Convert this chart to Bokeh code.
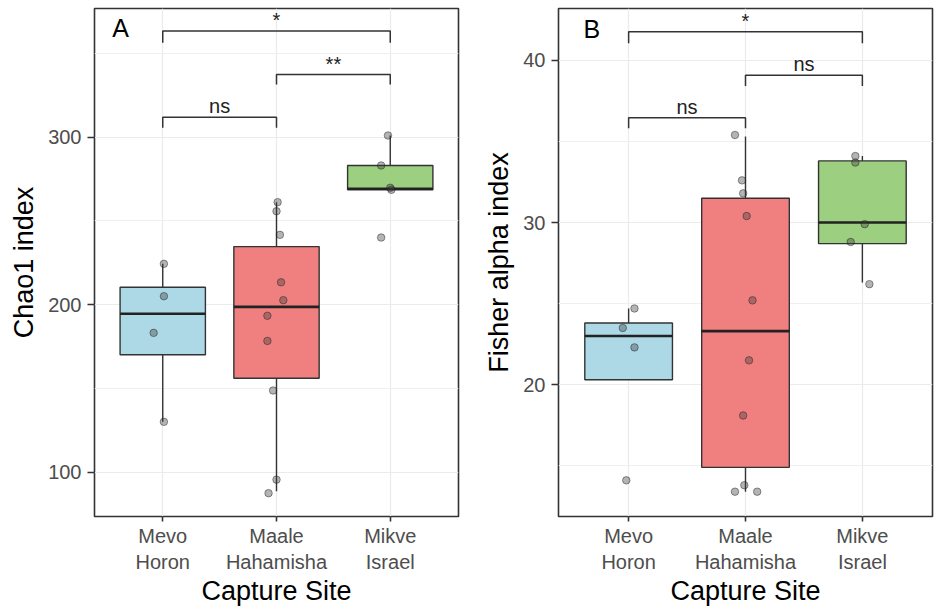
from bokeh.plotting import figure
from bokeh.layouts import row
from bokeh.models import Range1d, FixedTicker, Label, ColumnDataSource
from bokeh.core.properties import value
from bokeh.embed import file_html
from bokeh.resources import INLINE

# ---------------- data ----------------
categories = ["Mevo\nHoron", "Maale\nHahamisha", "Mikve\nIsrael"]
box_colors = ["#ADD8E6", "#F08080", "#9CCF80"]

# Panel A : Chao1 index
chao_q1 = [170.1, 156.1, 268.6]
chao_median = [194.6, 198.7, 269.2]
chao_q3 = [210.4, 234.7, 283.1]
chao_whisker_lo = [130.1, 88.7, 268.6]
chao_whisker_hi = [224.4, 261.2, 301.0]
chao_points = [
    [224.4, 205.1, 183.2, 130.1],
    [261.2, 255.8, 241.7, 213.4, 202.7, 193.4, 178.4, 148.8, 95.6, 87.5],
    [301.0, 283.1, 269.8, 268.6, 240.1],
]
chao_jitter = [
    [0.01, 0.01, -0.08, 0.01],
    [0.01, 0.0, 0.03, 0.04, 0.06, -0.08, -0.08, -0.03, 0.0, -0.07],
    [-0.02, -0.08, 0.0, 0.01, -0.08],
]
chao_brackets = [(1, 2, 311.9, 305.6, "ns"), (2, 3, 337.4, 331.5, "**"), (1, 3, 363.3, 356.4, "*")]

# Panel B : Fisher alpha index
fisher_q1 = [20.3, 14.9, 28.7]
fisher_median = [23.0, 23.3, 30.0]
fisher_q3 = [23.8, 31.5, 33.8]
fisher_whisker_lo = [20.3, 13.4, 26.3]
fisher_whisker_hi = [24.7, 35.3, 34.1]
fisher_points = [
    [24.7, 23.5, 22.3, 14.1],
    [35.4, 32.6, 31.8, 30.4, 25.2, 21.5, 18.1, 13.8, 13.4, 13.4],
    [34.1, 33.7, 29.9, 28.8, 26.2],
]
fisher_jitter = [
    [0.05, -0.05, 0.05, -0.02],
    [-0.09, -0.03, -0.02, 0.01, 0.06, 0.03, -0.02, -0.01, -0.09, 0.10],
    [-0.06, -0.06, 0.02, -0.10, 0.06],
]
fisher_brackets = [(1, 2, 36.46, 35.81, "ns"), (2, 3, 39.09, 38.42, "ns"), (1, 3, 41.76, 41.05, "*")]

FONT = "Liberation Sans"
DARK = "#333333"


def panel(ytitle, yrange, yticks, yminor, q1, med, q3, lo, hi, pts, jit,
          brackets, letter, letter_xy, border_left, border_right):
    p = figure(width=467, height=608, x_range=Range1d(0.4, 3.6), y_range=Range1d(*yrange),
               output_backend="svg", toolbar_location=None,
               min_border_left=border_left, min_border_right=border_right,
               min_border_top=8, min_border_bottom=92)
    p.background_fill_color = "white"
    p.border_fill_color = "white"
    p.outline_line_color = DARK
    p.outline_line_width = 1.6

    pos = [i + 1 for i in range(len(categories))]
    hw = 0.375

    # grid
    p.xaxis.ticker = FixedTicker(ticks=pos)
    p.yaxis.ticker = FixedTicker(ticks=yticks, minor_ticks=yminor)
    p.xgrid.grid_line_color = "#EBEBEB"
    p.ygrid.grid_line_color = "#EBEBEB"
    p.ygrid.minor_grid_line_color = "#EFEFEF"
    p.xgrid.grid_line_width = 1.2
    p.ygrid.grid_line_width = 1.2
    p.ygrid.minor_grid_line_width = 1.0

    # axes
    p.xaxis.major_label_overrides = {i + 1: c for i, c in enumerate(categories)}
    for ax in (p.xaxis, p.yaxis):
        ax.axis_line_color = None
        ax.major_tick_line_color = DARK
        ax.major_tick_line_width = 1.6
        ax.major_tick_in = 0
        ax.minor_tick_line_color = None
        ax.major_label_text_font = FONT
        ax.major_label_text_font_size = "20px"
        ax.major_label_text_color = "#4D4D4D"
        ax.axis_label_text_font = FONT
        ax.axis_label_text_font_size = "27px"
        ax.axis_label_text_font_style = "normal"
        ax.axis_label_text_color = "black"
    p.xaxis.major_tick_out = 5
    p.yaxis.major_tick_out = 7
    p.xaxis.major_label_standoff = 3
    p.yaxis.major_label_standoff = 6
    p.xaxis.axis_label_standoff = 0
    p.yaxis.axis_label_standoff = 6
    p.xaxis.axis_label = "Capture Site"
    p.yaxis.axis_label = ytitle

    # whiskers
    p.segment(x0=pos, y0=q3, x1=pos, y1=hi, line_color=DARK, line_width=1.4)
    p.segment(x0=pos, y0=lo, x1=pos, y1=q1, line_color=DARK, line_width=1.4)
    # boxes
    p.vbar(x=pos, width=2 * hw, bottom=q1, top=q3, fill_color=box_colors,
           line_color=DARK, line_width=1.4)
    # medians
    p.segment(x0=[x - hw for x in pos], y0=med, x1=[x + hw for x in pos], y1=med,
              line_color="#222222", line_width=2.6)

    # jittered points
    xs, ys = [], []
    for i, (vals, js) in enumerate(zip(pts, jit)):
        for v, j in zip(vals, js):
            xs.append(pos[i] + j)
            ys.append(v)
    p.scatter(x=xs, y=ys, size=7.5, fill_color="#3A3A3A", fill_alpha=0.38,
              line_color="#1A1A1A", line_alpha=0.45, line_width=1)

    # significance brackets
    bxs, bys = [], []
    for a, b, y, tip, lab in brackets:
        bxs.append([a, a, b, b])
        bys.append([tip, y, y, tip])
    p.multi_line(xs=bxs, ys=bys, line_color=DARK, line_width=1.5)
    src = ColumnDataSource(dict(x=[(a + b) / 2 for a, b, _, _, _ in brackets],
                                y=[y for _, _, y, _, _ in brackets],
                                t=[lab for *_, lab in brackets]))
    p.text(x="x", y="y", text="t", source=src, text_align="center",
           text_baseline="bottom", text_font=value(FONT),
           text_font_size="20px", text_color="#222222")

    # panel letter
    p.add_layout(Label(x=letter_xy[0], y=letter_xy[1], text=letter, text_font=FONT,
                       text_font_size="25px", text_color="black",
                       text_baseline="top", text_align="left"))
    return p


pA = panel("Chao1 index", (73.6, 376.8), [100, 200, 300], [150, 250, 350],
           chao_q1, chao_median, chao_q3, chao_whisker_lo, chao_whisker_hi,
           chao_points, chao_jitter, chao_brackets, "A", (0.555, 373.5), 94, 9)
pB = panel("Fisher alpha index", (11.87, 43.2), [20, 30, 40], [15, 25, 35],
           fisher_q1, fisher_median, fisher_q3, fisher_whisker_lo, fisher_whisker_hi,
           fisher_points, fisher_jitter, fisher_brackets, "B", (0.613, 42.82), 91, 2)

layout = row(pA, pB)
open("out.html", "w").write(file_html(layout, INLINE))
